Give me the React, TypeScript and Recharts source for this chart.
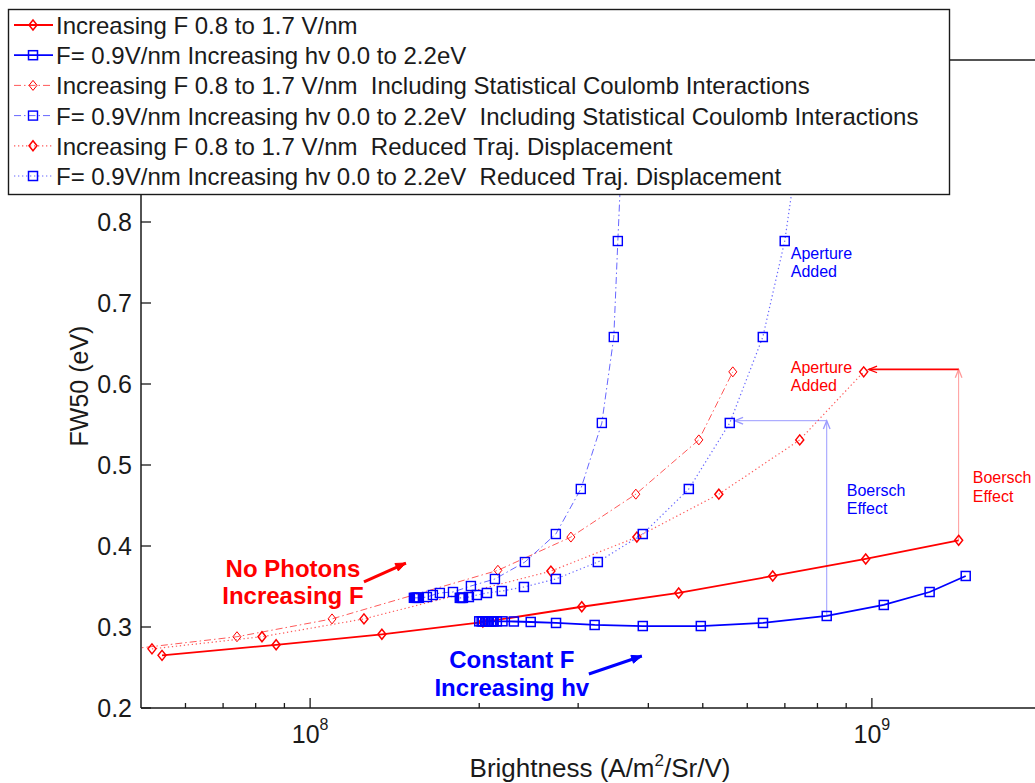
import React from 'react';
import {
  LineChart,
  Line,
  XAxis,
  YAxis,
  ReferenceLine,
  ReferenceDot,
  Label,
} from 'recharts';

const FONT = '"Liberation Sans", Arial, Helvetica, sans-serif';
const INK = '#1a1a1a';
const RED = '#ff0000';
const BLUE = '#0000ff';

// brightness (A/m^2/Sr/V) vs FW50 (eV)

// Increasing F 0.8 to 1.7 V/nm
const fieldB = [5.45e7, 8.7e7, 1.342e8, 2.03e8, 3.045e8, 4.53e8, 6.66e8, 9.75e8, 1.427e9];
const fieldFw = [0.265, 0.278, 0.291, 0.306, 0.325, 0.342, 0.363, 0.384, 0.407];

// F = 0.9 V/nm, increasing hv 0.0 to 2.2 eV
const photonB = [
  2.0e8, 2.02e8, 2.03e8, 2.05e8, 2.06e8, 2.07e8, 2.08e8, 2.1e8, 2.11e8, 2.12e8,
  2.15e8, 2.2e8, 2.305e8, 2.47e8, 2.74e8, 3.21e8, 3.91e8, 4.96e8, 6.4e8, 8.31e8,
  1.05e9, 1.267e9, 1.469e9,
];
const photonFw = [
  0.307, 0.307, 0.307, 0.307, 0.307, 0.307, 0.307, 0.307, 0.307, 0.307,
  0.307, 0.307, 0.3068, 0.3062, 0.305, 0.3025, 0.3012, 0.3012, 0.305, 0.3136,
  0.3272, 0.3432, 0.363,
];

// with statistical Coulomb interactions
const fieldCoulB = [4.82e7, 7.41e7, 1.094e8, 2.159e8, 2.912e8, 3.8e8, 4.92e8, 5.655e8];
const fieldCoulFw = [0.273, 0.288, 0.31, 0.37, 0.411, 0.464, 0.531, 0.615];
const photonCoulB = [
  1.53e8, 1.537e8, 1.543e8, 1.55e8, 1.556e8, 1.562e8, 1.614e8, 1.654e8, 1.702e8,
  1.796e8, 1.933e8, 2.133e8, 2.412e8, 2.738e8, 3.033e8, 3.306e8, 3.472e8, 3.53e8, 3.62e8,
];
const photonCoulFw = [
  0.336, 0.336, 0.336, 0.336, 0.336, 0.336, 0.337, 0.3395, 0.342,
  0.3432, 0.3506, 0.3593, 0.3802, 0.4148, 0.4704, 0.5519, 0.658, 0.7765, 0.95,
];

// reduced trajectory displacement
const fieldTrajB = [5.23e7, 8.21e7, 1.247e8, 2.683e8, 3.816e8, 5.34e8, 7.44e8, 9.67e8];
const fieldTrajFw = [0.273, 0.288, 0.31, 0.369, 0.411, 0.464, 0.531, 0.615];
const photonTrajB = [
  1.847e8, 1.855e8, 1.863e8, 1.871e8, 1.917e8, 1.981e8, 2.064e8, 2.194e8, 2.402e8,
  2.738e8, 3.252e8, 3.91e8, 4.722e8, 5.585e8, 6.395e8, 6.996e8, 7.6e8,
];
const photonTrajFw = [
  0.336, 0.336, 0.336, 0.336, 0.337, 0.3395, 0.342, 0.3444, 0.3494,
  0.3593, 0.3802, 0.4148, 0.4704, 0.5519, 0.658, 0.7765, 0.95,
];

const xTicks = [
  6e7, 7e7, 8e7, 9e7, 1e8, 2e8, 3e8, 4e8, 5e8, 6e8, 7e8, 8e8, 9e8, 1e9, 2e9,
];
// 0.9 and 1.0 sit under the legend box, so only the lower ones get labels
const yTicks = [0.2, 0.3, 0.4, 0.5, 0.6, 0.7, 0.8];
const rightTicks = [0.2, 0.3, 0.4, 0.5, 0.6, 0.7, 0.8, 0.9];

const zip = (b: number[], fw: number[]) => b.map((v, i) => ({ b: v, fw: fw[i] }));

type Marker = 'diamond' | 'square';
interface Series {
  name: string;
  rows: { b: number; fw: number }[];
  color: string;
  width: number;
  opacity: number;
  dash?: string;
  marker: Marker;
  mw: number;
}

const series: Series[] = [
  { name: 'Increasing F 0.8 to 1.7 V/nm', rows: zip(fieldB, fieldFw), color: RED, width: 1.8, opacity: 1, marker: 'diamond', mw: 1.5 },
  { name: 'F= 0.9V/nm Increasing hv 0.0 to 2.2eV', rows: zip(photonB, photonFw), color: BLUE, width: 1.8, opacity: 1, marker: 'square', mw: 1.5 },
  { name: 'Increasing F 0.8 to 1.7 V/nm  Including Statistical Coulomb Interactions', rows: zip(fieldCoulB, fieldCoulFw), color: RED, width: 1, opacity: 0.65, dash: '7 3 1.5 3', marker: 'diamond', mw: 1 },
  { name: 'F= 0.9V/nm Increasing hv 0.0 to 2.2eV  Including Statistical Coulomb Interactions', rows: zip(photonCoulB, photonCoulFw), color: BLUE, width: 1, opacity: 0.6, dash: '7 3 1.5 3', marker: 'square', mw: 1.4 },
  { name: 'Increasing F 0.8 to 1.7 V/nm  Reduced Traj. Displacement', rows: zip(fieldTrajB, fieldTrajFw), color: RED, width: 1.2, opacity: 0.65, dash: '1.3 2.7', marker: 'diamond', mw: 1.5 },
  { name: 'F= 0.9V/nm Increasing hv 0.0 to 2.2eV  Reduced Traj. Displacement', rows: zip(photonTrajB, photonTrajFw), color: BLUE, width: 1.2, opacity: 0.6, dash: '1.3 2.7', marker: 'square', mw: 1.5 },
];

// annotations, in data coordinates
const notes = [
  { lines: ['No Photons', 'Increasing F'], b: 9.32e7, fw: 0.3617, color: RED, size: 24, bold: true, anchor: 'middle', lh: 27 },
  { lines: ['Constant F', 'Increasing hv'], b: 2.286e8, fw: 0.2494, color: BLUE, size: 24, bold: true, anchor: 'middle', lh: 28 },
  { lines: ['Aperture', 'Added'], b: 7.17e8, fw: 0.7543, color: BLUE, size: 16, bold: false, anchor: 'start', lh: 18 },
  { lines: ['Aperture', 'Added'], b: 7.17e8, fw: 0.6136, color: RED, size: 16, bold: false, anchor: 'start', lh: 18 },
  { lines: ['Boersch', 'Effect'], b: 9.02e8, fw: 0.4617, color: BLUE, size: 16, bold: false, anchor: 'start', lh: 18 },
  { lines: ['Boersch', 'Effect'], b: 1.512e9, fw: 0.4778, color: RED, size: 16, bold: false, anchor: 'start', lh: 19 },
];

const arrows = [
  { from: [8.31e8, 0.3136], to: [8.31e8, 0.5547], color: '#9a9aff', width: 1, head: 9, filled: false },
  { from: [8.31e8, 0.5547], to: [5.7e8, 0.5547], color: '#9a9aff', width: 1, head: 9, filled: false },
  { from: [1.427e9, 0.407], to: [1.427e9, 0.618], color: '#ff9a9a', width: 1, head: 9, filled: false },
  { from: [1.427e9, 0.618], to: [9.87e8, 0.618], color: RED, width: 1.8, head: 9, filled: false },
  { from: [1.247e8, 0.3556], to: [1.481e8, 0.379], color: RED, width: 3, head: 11, filled: true },
  { from: [3.135e8, 0.242], to: [3.895e8, 0.2642], color: BLUE, width: 3, head: 11, filled: true },
];

function MarkerShape({ kind, cx, cy, color, w }: { kind: Marker; cx: number; cy: number; color: string; w: number }) {
  if (kind === 'diamond') {
    return (
      <path
        d={`M${cx},${cy - 5}L${cx + 4},${cy}L${cx},${cy + 5}L${cx - 4},${cy}Z`}
        fill="none"
        stroke={color}
        strokeWidth={w}
      />
    );
  }
  return <rect x={cx - 4.5} y={cy - 4.5} width={9} height={9} fill="none" stroke={color} strokeWidth={w} />;
}

function XTick(props: any) {
  const { x, y, payload } = props;
  const lg = Math.log10(payload.value);
  const exp = Math.round(lg);
  const major = Math.abs(lg - exp) < 1e-6;
  return (
    <g>
      <line x1={x} x2={x} y1={y} y2={y - (major ? 10 : 5)} stroke={INK} strokeWidth={1.3} />
      {major && (
        <text x={x} y={y + 35} textAnchor="middle" fontFamily={FONT} fontSize={25} fill={INK}>
          10
          <tspan dy={-13} fontSize={16}>{exp}</tspan>
        </text>
      )}
    </g>
  );
}

function YTick(props: any) {
  const { x, y, payload } = props;
  return (
    <g>
      <line x1={x} x2={x + 10} y1={y} y2={y} stroke={INK} strokeWidth={1.3} />
      <text x={x - 9} y={y + 9} textAnchor="end" fontFamily={FONT} fontSize={25} fill={INK}>
        {payload.value.toFixed(1)}
      </text>
    </g>
  );
}

function RightTick(props: any) {
  const { x, y } = props;
  return <line x1={x} x2={x - 10} y1={y} y2={y} stroke={INK} strokeWidth={1.3} />;
}

const arrowShape = (color: string, width: number, head: number, filled: boolean) => (p: any) => {
  const { x1, y1, x2, y2 } = p;
  const a = Math.atan2(y2 - y1, x2 - x1);
  const s = 0.38;
  const ax = x2 - head * Math.cos(a - s);
  const ay = y2 - head * Math.sin(a - s);
  const bx = x2 - head * Math.cos(a + s);
  const by = y2 - head * Math.sin(a + s);
  return (
    <g>
      <line x1={x1} y1={y1} x2={x2} y2={y2} stroke={color} strokeWidth={width} />
      {filled ? (
        <path d={`M${x2},${y2}L${ax},${ay}L${bx},${by}Z`} fill={color} stroke={color} />
      ) : (
        <path d={`M${ax},${ay}L${x2},${y2}L${bx},${by}`} fill="none" stroke={color} strokeWidth={1.3} />
      )}
    </g>
  );
};

const noteShape = (n: (typeof notes)[number]) => (p: any) => (
  <text
    x={p.cx}
    y={p.cy}
    textAnchor={n.anchor as any}
    fontFamily={FONT}
    fontSize={n.size}
    fontWeight={n.bold ? 'bold' : 'normal'}
    fill={n.color}
  >
    {n.lines.map((s, i) => (
      <tspan key={i} x={p.cx} dy={i === 0 ? 0 : n.lh}>
        {s}
      </tspan>
    ))}
  </text>
);

function LegendBox() {
  return (
    <svg
      width={1035}
      height={783}
      style={{ position: 'absolute', left: 0, top: 0, pointerEvents: 'none' }}
    >
      <rect x={8.5} y={9.5} width={941} height={185} fill="#fff" stroke={INK} strokeWidth={1.4} />
      {series.map((s, i) => {
        const y = 25 + i * 30.2;
        return (
          <g key={i}>
            <line
              x1={14}
              x2={53}
              y1={y}
              y2={y}
              stroke={s.color}
              strokeWidth={s.width}
              strokeOpacity={s.opacity}
              strokeDasharray={s.dash}
            />
            <MarkerShape kind={s.marker} cx={33} cy={y} color={s.color} w={s.mw} />
            <text
              x={56}
              y={y + 9}
              fontFamily={FONT}
              fontSize={24}
              fill={INK}
              style={{ whiteSpace: 'pre' }}
            >
              {s.name}
            </text>
          </g>
        );
      })}
    </svg>
  );
}

export default function App() {
  return (
    <div
      style={{
        position: 'absolute',
        left: 0,
        top: 0,
        width: 1035,
        height: 783,
        overflow: 'hidden',
        background: '#fff',
      }}
    >
      <LineChart width={1045} height={783} margin={{ top: 60, right: 4, bottom: 0, left: 0 }}>
        <XAxis
          dataKey="b"
          type="number"
          scale="log"
          domain={[5e7, 2e9]}
          allowDataOverflow
          ticks={xTicks}
          interval={0}
          tick={<XTick />}
          tickLine={false}
          tickSize={0}
          tickMargin={0}
          height={75}
          axisLine={{ stroke: INK, strokeWidth: 1.5 }}
        >
          <Label
            content={(p: any) => {
              const vb = p.viewBox;
              return (
                <text
                  x={vb.x + vb.width / 2 + 9}
                  y={vb.y + 69}
                  textAnchor="middle"
                  fontFamily={FONT}
                  fontSize={26}
                  fill={INK}
                >
                  Brightness (A/m
                  <tspan dy={-11} fontSize={17}>2</tspan>
                  <tspan dy={11}>/Sr/V)</tspan>
                </text>
              );
            }}
          />
        </XAxis>
        <YAxis
          type="number"
          domain={[0.2, 1.0]}
          allowDataOverflow
          ticks={yTicks}
          interval={0}
          tick={<YTick />}
          tickLine={false}
          tickSize={0}
          tickMargin={0}
          width={141}
          axisLine={{ stroke: INK, strokeWidth: 1.5 }}
        >
          <Label
            content={(p: any) => {
              const vb = p.viewBox;
              const cx = 88;
              const cy = vb.y + vb.height / 2 + 2;
              return (
                <text
                  x={cx}
                  y={cy}
                  transform={`rotate(-90, ${cx}, ${cy})`}
                  textAnchor="middle"
                  fontFamily={FONT}
                  fontSize={25}
                  fill={INK}
                >
                  FW50 (eV)
                </text>
              );
            }}
          />
        </YAxis>
        <YAxis
          yAxisId="right"
          orientation="right"
          type="number"
          domain={[0.2, 1.0]}
          ticks={rightTicks}
          interval={0}
          tick={<RightTick />}
          tickLine={false}
          tickSize={0}
          tickMargin={0}
          width={0}
          axisLine={{ stroke: INK, strokeWidth: 1.5 }}
        />
        <ReferenceLine y={1.0} stroke={INK} strokeWidth={1.5} />

        {arrows.map((a, i) => (
          <ReferenceLine
            key={`a${i}`}
            segment={[
              { x: a.from[0], y: a.from[1] },
              { x: a.to[0], y: a.to[1] },
            ]}
            ifOverflow="visible"
            shape={arrowShape(a.color, a.width, a.head, a.filled)}
          />
        ))}

        {series.map((s, i) => (
          <Line
            key={s.name}
            data={s.rows}
            dataKey="fw"
            name={s.name}
            type="linear"
            stroke={s.color}
            strokeWidth={s.width}
            strokeOpacity={s.opacity}
            strokeDasharray={s.dash}
            isAnimationActive={false}
            activeDot={false}
            dot={(p: any) => (
              <MarkerShape
                key={`m${i}-${p.index}`}
                kind={s.marker}
                cx={p.cx}
                cy={p.cy}
                color={s.color}
                w={s.mw}
              />
            )}
          />
        ))}

        {notes.map((n, i) => (
          <ReferenceDot key={`n${i}`} x={n.b} y={n.fw} r={0} shape={noteShape(n)} />
        ))}
      </LineChart>
      <LegendBox />
    </div>
  );
}
